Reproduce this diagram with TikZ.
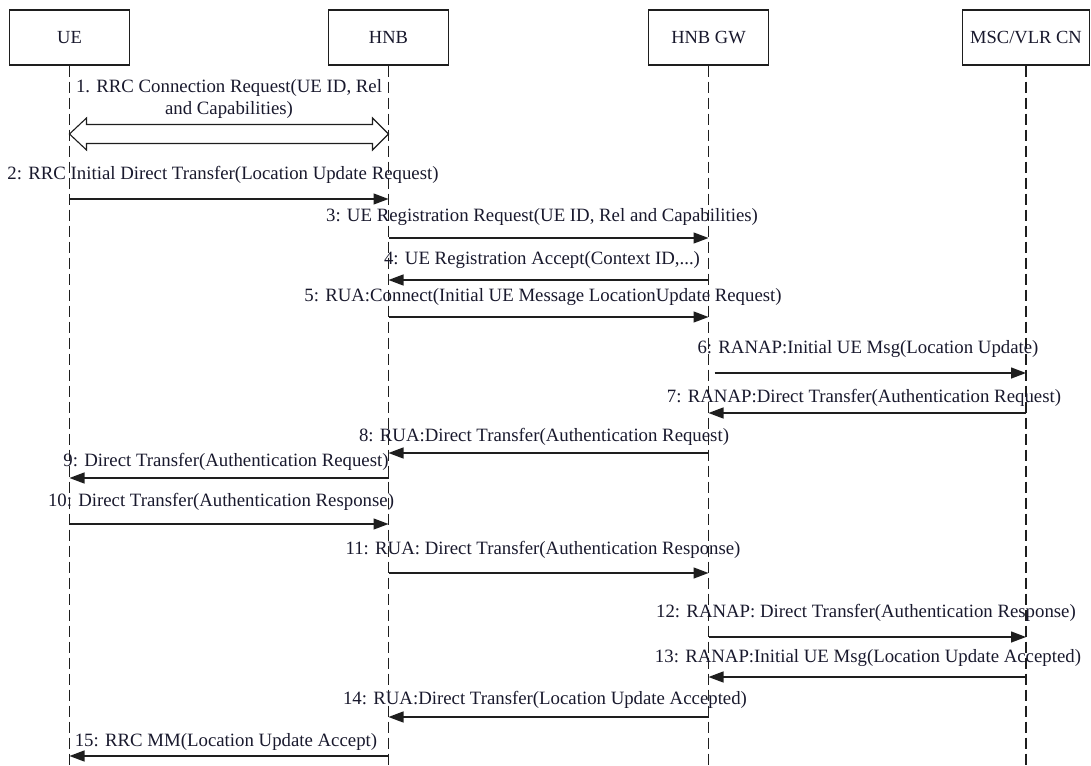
\documentclass[tikz,border=0pt]{standalone}
\usepackage{fontspec}
\setmainfont{Liberation Serif}
\usetikzlibrary{arrows.meta,calc}
\definecolor{txt}{RGB}{25,25,45}
\definecolor{ln}{RGB}{30,30,30}
\begin{document}
\begin{tikzpicture}[x=1pt,y=-1pt,
 actor/.style={draw=ln,fill=white,line width=1.2pt,minimum width=120pt,minimum height=55pt,inner sep=0pt,font=\fontsize{18.5}{20}\selectfont,text=txt},
 life/.style={draw=ln,line width=1.3pt,dash pattern=on 11pt off 5pt},
 msg/.style={draw=ln,line width=1.3pt,-{Triangle[length=15pt,width=11pt]}},
 lbl/.style={font=\fontsize{18.8}{22}\selectfont,text=txt,inner sep=0pt,align=center},
 dbl/.style={draw=ln,line width=1.1pt,line join=miter}]
\useasboundingbox (0,0) rectangle (1091,765);

% actors
\node[actor] (ue)  at (69.5,37.5) {UE};
\node[actor] (hnb) at (388.5,37.5) {HNB};
\node[actor] (gw)  at (708.5,37.5) {HNB GW};
\node[actor, minimum width=127pt] (msc) at (1026,37.5) {MSC/VLR CN};

% lifelines
\draw[life] (ue.south)  -- (ue.south |- 0,765);
\draw[life] (hnb.south) -- (hnb.south |- 0,765);
\draw[life] (gw.south)  -- (gw.south |- 0,765);
\draw[life] (msc.south) -- (msc.south |- 0,765);

% 1: double arrow
\coordinate (d1) at (ue.south |- 0,134);
\coordinate (d2) at (hnb.south |- 0,134);
\draw[dbl] (d1) -- ($(d1)+(17,-16)$) -- ($(d1)+(17,-9.5)$) -- ($(d2)+(-16,-9.5)$)
  -- ($(d2)+(-16,-16)$) -- (d2) -- ($(d2)+(-16,16)$) -- ($(d2)+(-16,9.5)$)
  -- ($(d1)+(17,9.5)$) -- ($(d1)+(17,16)$) -- cycle;
\node[lbl] (l1) at (229,99) {1. RRC Connection Request(UE ID, Rel\\and Capabilities)};

% 2
\draw[msg] (ue.south |- 0,199) -- (hnb.south |- 0,199);
\node[lbl] (l2) at (223,175) {2: RRC Initial Direct Transfer(Location Update Request)};
% 3
\draw[msg] (hnb.south |- 0,238) -- (gw.south |- 0,238);
\node[lbl] (l3) at (542,217) {3: UE Registration Request(UE ID, Rel and Capabilities)};
% 4
\draw[msg] (gw.south |- 0,280) -- (hnb.south |- 0,280);
\node[lbl] (l4) at (542,260) {4: UE Registration Accept(Context ID,...)};
% 5
\draw[msg] (hnb.south |- 0,317) -- (gw.south |- 0,317);
\node[lbl] (l5) at (543,297) {5: RUA:Connect(Initial UE Message LocationUpdate Request)};
% 6
\draw[msg] ($(gw.south |- 0,373)+(6,0)$) -- (msc.south |- 0,373);
\node[lbl] (l6) at (868,349) {6: RANAP:Initial UE Msg(Location Update)};
% 7
\draw[msg] (msc.south |- 0,413) -- (gw.south |- 0,413);
\node[lbl] (l7) at (864,398) {7: RANAP:Direct Transfer(Authentication Request)};
% 8
\draw[msg] (gw.south |- 0,453) -- (hnb.south |- 0,453);
\node[lbl] (l8) at (544,437) {8: RUA:Direct Transfer(Authentication Request)};
% 9
\draw[msg] (hnb.south |- 0,478) -- (ue.south |- 0,478);
\node[lbl] (l9) at (226,462) {9: Direct Transfer(Authentication Request)};
% 10
\draw[msg] (ue.south |- 0,524) -- (hnb.south |- 0,524);
\node[lbl] (l10) at (221,502) {10: Direct Transfer(Authentication Response)};
% 11
\draw[msg] (hnb.south |- 0,573) -- (gw.south |- 0,573);
\node[lbl] (l11) at (543,550) {11: RUA: Direct Transfer(Authentication Response)};
% 12
\draw[msg] (gw.south |- 0,637) -- (msc.south |- 0,637);
\node[lbl] (l12) at (866,613) {12: RANAP: Direct Transfer(Authentication Response)};
% 13
\draw[msg] (msc.south |- 0,677) -- (gw.south |- 0,677);
\node[lbl] (l13) at (868,658) {13: RANAP:Initial UE Msg(Location Update Accepted)};
% 14
\draw[msg] (gw.south |- 0,717) -- (hnb.south |- 0,717);
\node[lbl] (l14) at (545,700) {14: RUA:Direct Transfer(Location Update Accepted)};
% 15
\draw[msg] (hnb.south |- 0,756) -- (ue.south |- 0,756);
\node[lbl] (l15) at (226,742) {15: RRC MM(Location Update Accept)};
\end{tikzpicture}
\end{document}
